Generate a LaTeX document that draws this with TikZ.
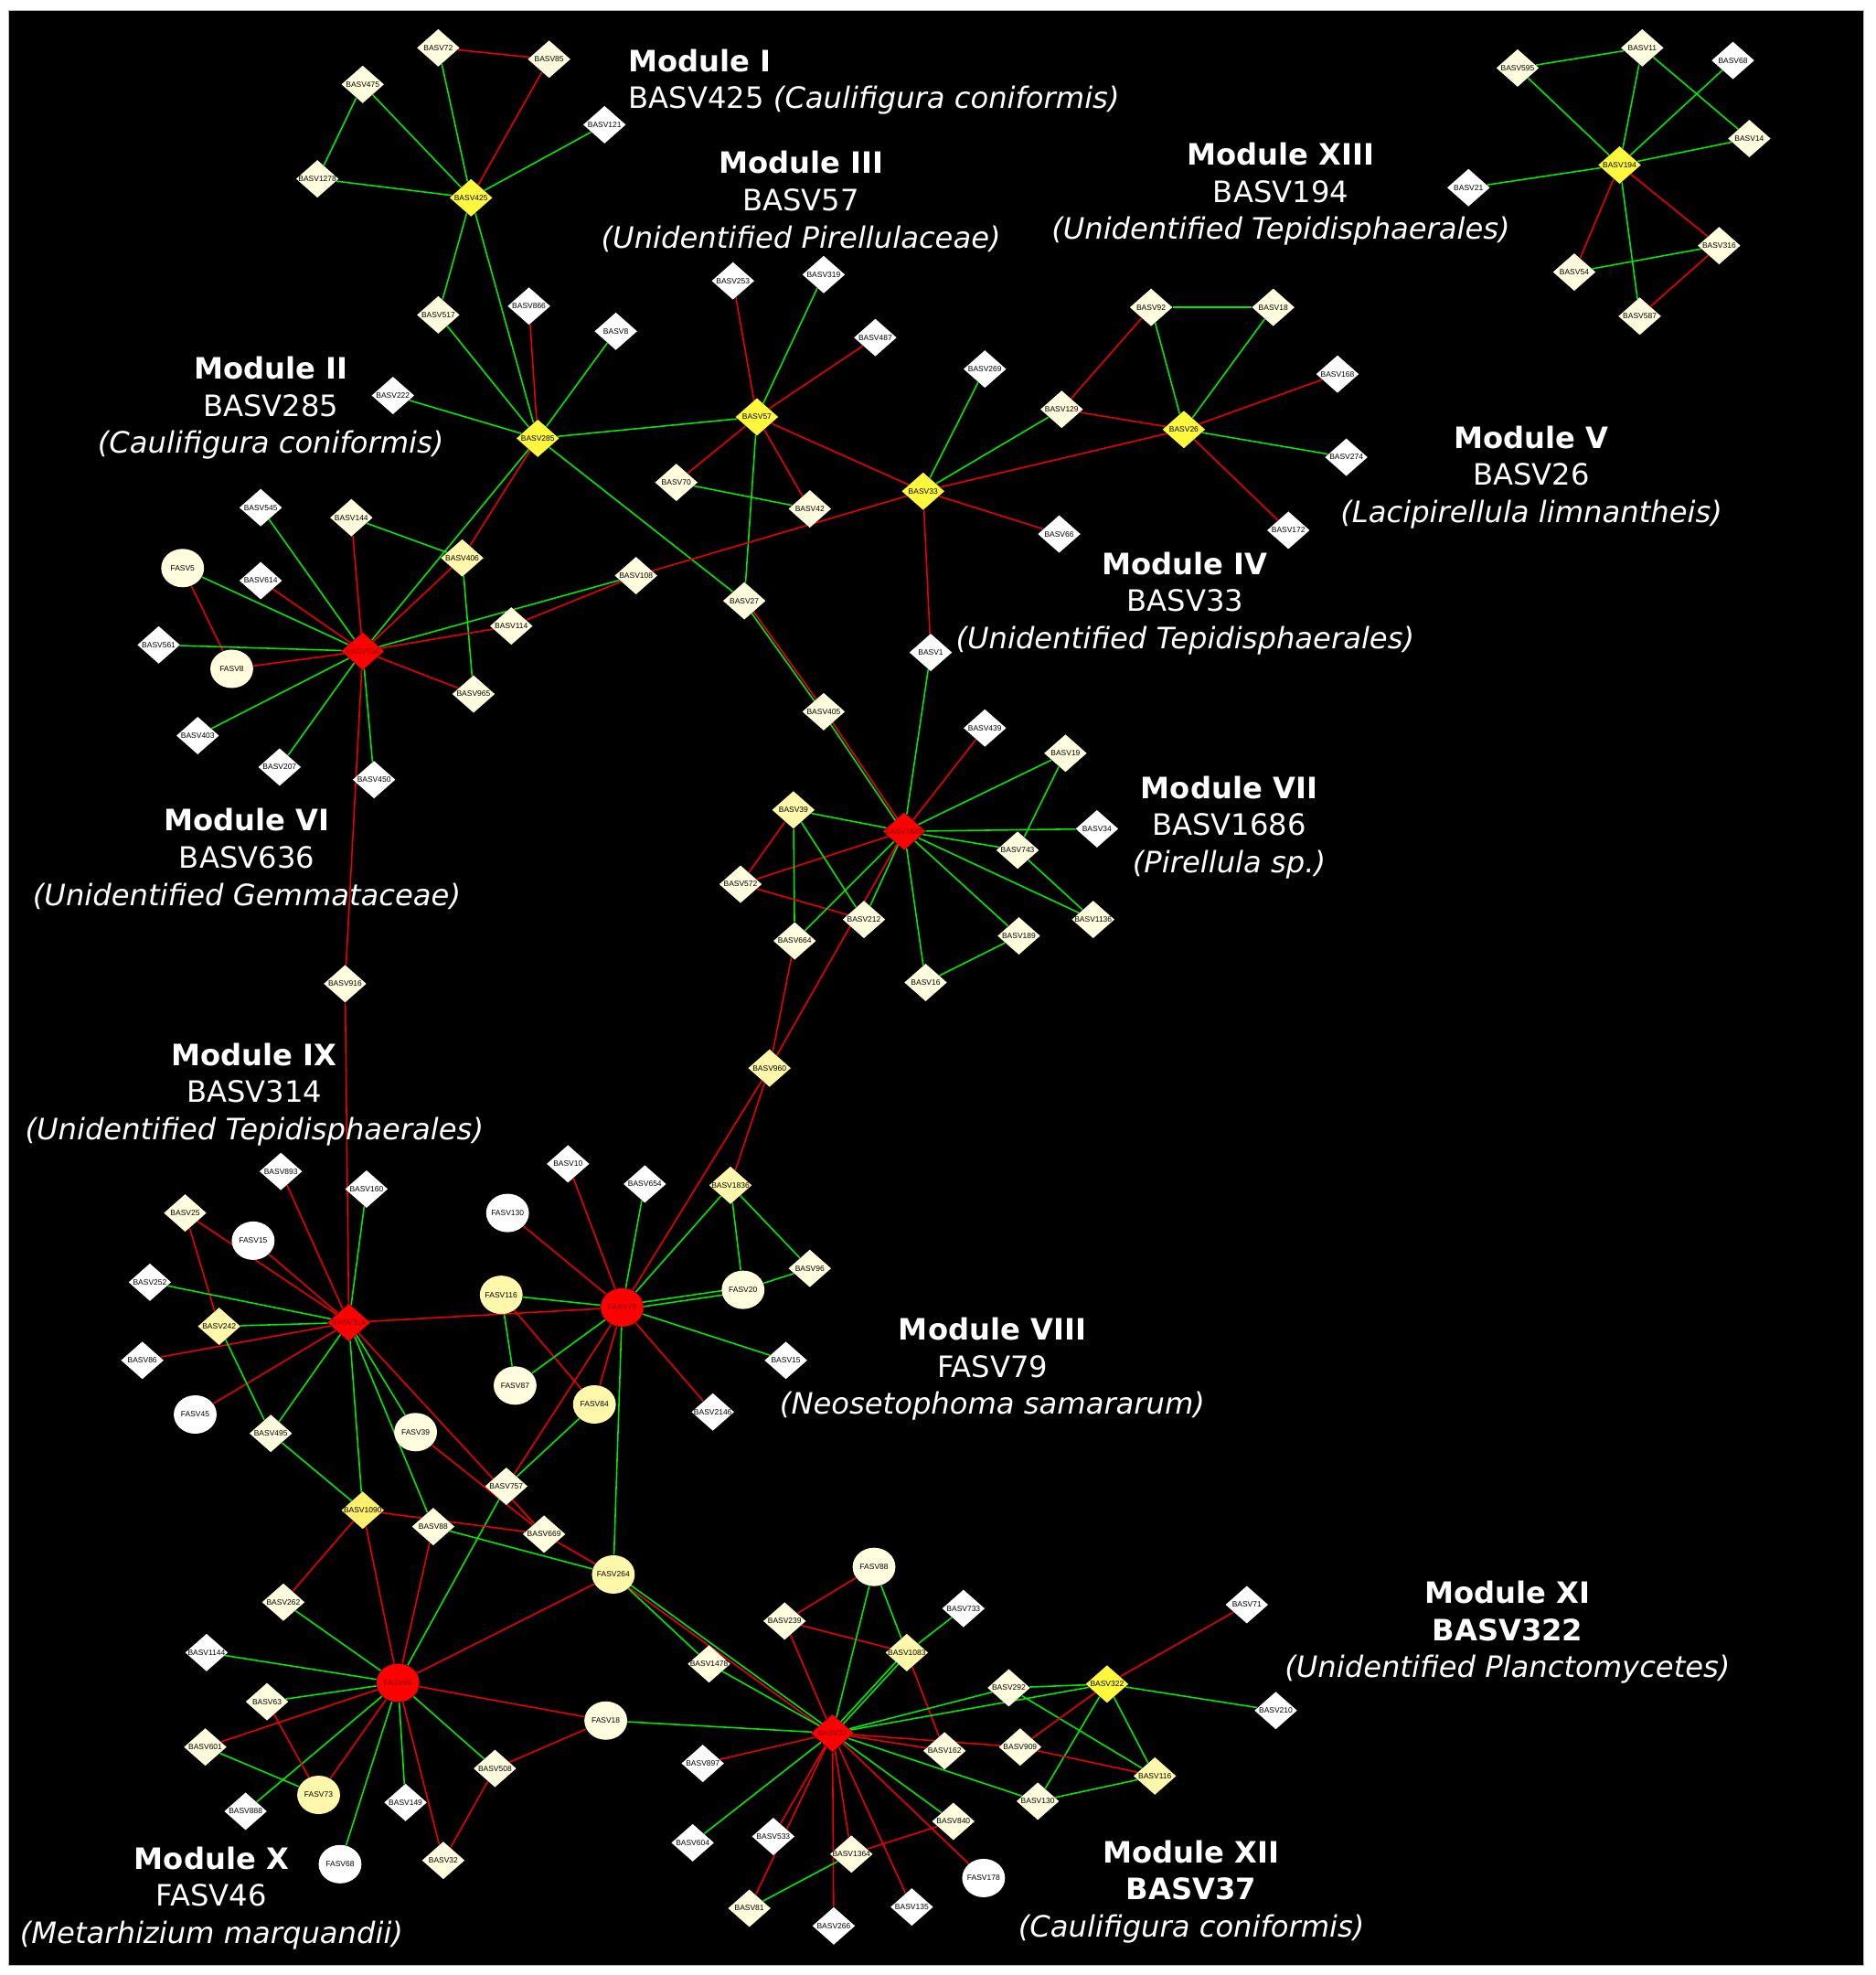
\documentclass[tikz,border=0pt]{standalone}
\usepackage{fontspec}
\usepackage{tikz}
\usetikzlibrary{shapes.geometric,backgrounds}
\newfontfamily\lblfont{Liberation Sans}
\newfontfamily\modfont{DejaVu Sans}
\definecolor{creamfill}{RGB}{255,253,222}
\definecolor{paleyfill}{RGB}{255,247,170}
\definecolor{midyfill}{RGB}{255,240,110}
\definecolor{hubyfill}{RGB}{255,248,60}
\definecolor{hubrfill}{RGB}{255,0,0}
\definecolor{hubtext}{RGB}{130,0,0}
\definecolor{edgegreen}{RGB}{0,235,0}
\definecolor{edgered}{RGB}{235,0,0}
\tikzset{diam/.style={diamond, draw=none, minimum width=6.8mm, minimum height=6mm, inner sep=-3mm, font=\lblfont\fontsize{3.5}{4}\selectfont}}
\tikzset{oval/.style={ellipse, draw=none, minimum width=6.8mm, minimum height=6.1mm, inner sep=-3mm, font=\lblfont\fontsize{3.5}{4}\selectfont}}
\tikzset{wh/.style={fill=white}}
\tikzset{cr/.style={fill=creamfill}}
\tikzset{py/.style={fill=paleyfill}}
\tikzset{my/.style={fill=midyfill}}
\tikzset{hy/.style={fill=hubyfill}}
\tikzset{hr/.style={fill=hubrfill, text=hubtext}}
\tikzset{gline/.style={draw=edgegreen, line width=0.65pt}}
\tikzset{rline/.style={draw=edgered, line width=0.65pt}}
\tikzset{modlbl/.style={text=white, align=center, font=\modfont\fontsize{13.3}{16.8}\selectfont}}

\begin{document}
\begin{tikzpicture}[x=0.2mm, y=-0.2mm]
  \useasboundingbox (0,0) rectangle (1489,1568);

  % module I and II
  \node[diam, cr] (b72) at (348,38) {BASV72};
  \node[diam, cr] (b85) at (436,47) {BASV85};
  \node[diam, cr] (b475) at (288,67) {BASV475};
  \node[diam, wh] (b121) at (480,99) {BASV121};
  \node[diam, cr] (b1278) at (252,142) {BASV1278};
  \node[diam, hy] (b425) at (374,157) {BASV425};
  \node[diam, cr] (b517) at (348,250) {BASV517};
  \node[diam, wh] (b866) at (420,243) {BASV866};
  \node[diam, wh] (b8) at (489,263) {BASV8};
  \node[diam, wh] (b222) at (312,314) {BASV222};
  \node[diam, hy] (b285) at (427,348) {BASV285};

  % module III, IV, V
  \node[diam, wh] (b253) at (582,223) {BASV253};
  \node[diam, wh] (b319) at (654,218) {BASV319};
  \node[diam, wh] (b487) at (695,268) {BASV487};
  \node[diam, wh] (b269) at (782,293) {BASV269};
  \node[diam, hy] (b57) at (601,331) {BASV57};
  \node[diam, cr] (b70) at (537,383) {BASV70};
  \node[diam, cr] (b42) at (643,404) {BASV42};
  \node[diam, hy] (b33) at (733,390) {BASV33};
  \node[diam, cr] (b129) at (843,325) {BASV129};
  \node[diam, cr] (b92) at (914,244) {BASV92};
  \node[diam, cr] (b18) at (1011,244) {BASV18};
  \node[diam, hy] (b26) at (940,341) {BASV26};
  \node[diam, wh] (b168) at (1062,297) {BASV168};
  \node[diam, wh] (b274) at (1069,363) {BASV274};
  \node[diam, wh] (b172) at (1023,421) {BASV172};
  \node[diam, wh] (b66) at (841,424) {BASV66};
  \node[diam, cr] (b108) at (505,457) {BASV108};
  \node[diam, cr] (b27) at (591,477) {BASV27};
  \node[diam, wh] (b1) at (739,518) {BASV1};

  % module XIII
  \node[diam, cr] (b595) at (1205,54) {BASV595};
  \node[diam, cr] (b11) at (1304,38) {BASV11};
  \node[diam, wh] (b68) at (1376,48) {BASV68};
  \node[diam, cr] (b14) at (1389,110) {BASV14};
  \node[diam, hy] (b194) at (1286,131) {BASV194};
  \node[diam, wh] (b21) at (1166,149) {BASV21};
  \node[diam, cr] (b316) at (1365,195) {BASV316};
  \node[diam, cr] (b54) at (1250,216) {BASV54};
  \node[diam, cr] (b587) at (1302,251) {BASV587};

  % module VI
  \node[diam, wh] (b545) at (207,403) {BASV545};
  \node[diam, cr] (b144) at (279,411) {BASV144};
  \node[diam, py] (b406) at (367,443) {BASV406};
  \node[oval, cr] (f5) at (145,451) {FASV5};
  \node[diam, wh] (b614) at (207,461) {BASV614};
  \node[diam, cr] (b114) at (406,497) {BASV114};
  \node[diam, wh] (b561) at (126,512) {BASV561};
  \node[diam, hr] (b636) at (288,517) {BASV636};
  \node[oval, cr] (f8) at (184,531) {FASV8};
  \node[diam, cr] (b965) at (376,551) {BASV965};
  \node[diam, wh] (b403) at (157,584) {BASV403};
  \node[diam, wh] (b207) at (222,609) {BASV207};
  \node[diam, wh] (b450) at (297,619) {BASV450};
  \node[diam, cr] (b916) at (274,781) {BASV916};

  % module VII
  \node[diam, cr] (b405) at (654,565) {BASV405};
  \node[diam, wh] (b439) at (782,578) {BASV439};
  \node[diam, cr] (b19) at (846,598) {BASV19};
  \node[diam, py] (b39) at (630,643) {BASV39};
  \node[diam, hr] (b1686) at (718,660) {BASV1686};
  \node[diam, wh] (b34) at (871,658) {BASV34};
  \node[diam, cr] (b743) at (808,675) {BASV743};
  \node[diam, cr] (b572) at (588,702) {BASV572};
  \node[diam, cr] (b212) at (686,730) {BASV212};
  \node[diam, cr] (b1136) at (868,730) {BASV1136};
  \node[diam, cr] (b664) at (631,747) {BASV664};
  \node[diam, cr] (b189) at (809,743) {BASV189};
  \node[diam, cr] (b16) at (735,780) {BASV16};
  \node[diam, py] (b960) at (611,848) {BASV960};

  % module IX and VIII
  \node[diam, wh] (b893) at (223,930) {BASV893};
  \node[diam, wh] (b160) at (291,944) {BASV160};
  \node[diam, cr] (b25) at (147,963) {BASV25};
  \node[oval, wh] (f15) at (201,985) {FASV15};
  \node[diam, wh] (b252) at (119,1018) {BASV252};
  \node[diam, py] (b242) at (174,1053) {BASV242};
  \node[diam, hr] (b314) at (277,1050) {BASV314};
  \node[diam, wh] (b86) at (113,1080) {BASV86};
  \node[oval, wh] (f45) at (155,1123) {FASV45};
  \node[diam, cr] (b495) at (215,1138) {BASV495};
  \node[oval, cr] (f39) at (330,1137) {FASV39};
  \node[oval, wh] (f130) at (403,963) {FASV130};
  \node[diam, wh] (b10) at (451,924) {BASV10};
  \node[diam, wh] (b654) at (512,940) {BASV654};
  \node[diam, py] (b1836) at (580,941) {BASV1836};
  \node[diam, cr] (b96) at (643,1007) {BASV96};
  \node[oval, py] (f116) at (398,1028) {FASV116};
  \node[oval, hr] (f79) at (494,1038) {FASV79};
  \node[oval, cr] (f20) at (590,1024) {FASV20};
  \node[oval, cr] (f87) at (409,1100) {FASV87};
  \node[oval, py] (f84) at (472,1115) {FASV84};
  \node[diam, wh] (b15) at (624,1080) {BASV15};
  \node[diam, wh] (b2146) at (566,1121) {BASV2146};

  % module X
  \node[diam, cr] (b757) at (402,1180) {BASV757};
  \node[diam, my] (b1090) at (288,1199) {BASV1090};
  \node[diam, cr] (b88) at (344,1212) {BASV88};
  \node[diam, cr] (b669) at (432,1218) {BASV669};
  \node[oval, py] (f264) at (487,1250) {FASV264};
  \node[diam, cr] (b262) at (225,1272) {BASV262};
  \node[diam, wh] (b1144) at (164,1312) {BASV1144};
  \node[oval, hr] (f46) at (316,1336) {FASV46};
  \node[diam, cr] (b63) at (212,1351) {BASV63};
  \node[oval, cr] (f18) at (481,1366) {FASV18};
  \node[diam, cr] (b601) at (163,1387) {BASV601};
  \node[diam, cr] (b508) at (393,1404) {BASV508};
  \node[oval, py] (f73) at (253,1425) {FASV73};
  \node[diam, wh] (b149) at (322,1431) {BASV149};
  \node[diam, wh] (b888) at (195,1438) {BASV888};
  \node[diam, cr] (b32) at (352,1477) {BASV32};
  \node[oval, wh] (f68) at (270,1480) {FASV68};

  % module XI and XII
  \node[oval, cr] (f88) at (694,1244) {FASV88};
  \node[diam, wh] (b733) at (765,1277) {BASV733};
  \node[diam, cr] (b239) at (623,1287) {BASV239};
  \node[diam, wh] (b71) at (990,1274) {BASV71};
  \node[diam, cr] (b1478) at (563,1321) {BASV1478};
  \node[diam, py] (b1083) at (720,1312) {BASV1083};
  \node[diam, cr] (b292) at (801,1340) {BASV292};
  \node[diam, hy] (b322) at (879,1337) {BASV322};
  \node[diam, wh] (b210) at (1013,1358) {BASV210};
  \node[diam, hr] (b37) at (661,1376) {BASV37};
  \node[diam, cr] (b162) at (750,1390) {BASV162};
  \node[diam, cr] (b909) at (810,1387) {BASV909};
  \node[diam, wh] (b897) at (558,1400) {BASV897};
  \node[diam, py] (b116) at (917,1410) {BASV116};
  \node[diam, cr] (b130) at (824,1430) {BASV130};
  \node[diam, cr] (b840) at (757,1446) {BASV840};
  \node[diam, wh] (b533) at (614,1458) {BASV533};
  \node[diam, wh] (b604) at (550,1463) {BASV604};
  \node[diam, cr] (b1364) at (676,1472) {BASV1364};
  \node[oval, wh] (f178) at (781,1491) {FASV178};
  \node[diam, cr] (b81) at (595,1515) {BASV81};
  \node[diam, wh] (b135) at (724,1514) {BASV135};
  \node[diam, wh] (b266) at (662,1529) {BASV266};

  % module captions
  \node[modlbl, align=left, anchor=west] (m1) at (493,65) {\textbf{Module I}\\BASV425 \textit{(Caulifigura coniformis)}};
  \node[modlbl] (m3) at (636,160) {\textbf{Module III}\\BASV57\\\textit{(Unidentified Pirellulaceae)}};
  \node[modlbl] (m13) at (1017,154) {\textbf{Module XIII}\\BASV194\\\textit{(Unidentified Tepidisphaerales)}};
  \node[modlbl] (m2) at (215,324) {\textbf{Module II}\\BASV285\\\textit{(Caulifigura coniformis)}};
  \node[modlbl] (m5) at (1216,379) {\textbf{Module V}\\BASV26\\\textit{(Lacipirellula limnantheis)}};
  \node[modlbl] (m4) at (941,479) {\textbf{Module IV}\\BASV33\\\textit{(Unidentified Tepidisphaerales)}};
  \node[modlbl] (m7) at (976,657) {\textbf{Module VII}\\BASV1686\\\textit{(Pirellula sp.)}};
  \node[modlbl] (m6) at (196,682) {\textbf{Module VI}\\BASV636\\\textit{(Unidentified Gemmataceae)}};
  \node[modlbl] (m9) at (202,869) {\textbf{Module IX}\\BASV314\\\textit{(Unidentified Tepidisphaerales)}};
  \node[modlbl] (m8) at (788,1087) {\textbf{Module VIII}\\FASV79\\\textit{(Neosetophoma samararum)}};
  \node[modlbl] (m11) at (1197,1296) {\textbf{Module XI}\\\textbf{BASV322}\\\textit{(Unidentified Planctomycetes)}};
  \node[modlbl] (m10) at (168,1507) {\textbf{Module X}\\FASV46\\\textit{(Metarhizium marquandii)}};
  \node[modlbl] (m12) at (946,1502) {\textbf{Module XII}\\\textbf{BASV37}\\\textit{(Caulifigura coniformis)}};

  \begin{pgfonlayer}{background}
  \fill[white] (0,0) rectangle (1489,1568);
  \fill[black] (7,8) rectangle (1480,1560);
  \draw[gray!60, line width=0.4pt] (7,8) rectangle (1480,1560);

  % module I and II
  \draw[rline] (b72) -- (b85);
  \draw[gline] (b72) -- (b425);
  \draw[rline] (b85) -- (b425);
  \draw[gline] (b475) -- (b425);
  \draw[gline] (b475) -- (b1278);
  \draw[gline] (b1278) -- (b425);
  \draw[gline] (b121) -- (b425);
  \draw[gline] (b425) -- (b517);
  \draw[gline] (b425) -- (b285);
  \draw[gline] (b517) -- (b285);
  \draw[rline] (b866) -- (b285);
  \draw[gline] (b8) -- (b285);
  \draw[gline] (b222) -- (b285);
  \draw[gline] (b285) -- (b57);
  \draw[gline] (b285) -- (b636);
  \draw[rline] (b285) -- (b406);
  \draw[gline] (b285) -- (b27);

  % module III, IV, V
  \draw[rline] (b253) -- (b57);
  \draw[gline] (b319) -- (b57);
  \draw[rline] (b487) -- (b57);
  \draw[rline] (b57) -- (b70);
  \draw[rline] (b57) -- (b42);
  \draw[rline] (b57) -- (b33);
  \draw[gline] (b57) -- (b27);
  \draw[gline] (b70) -- (b42);
  \draw[gline] (b269) -- (b33);
  \draw[gline] (b33) -- (b129);
  \draw[rline] (b33) -- (b26);
  \draw[rline] (b33) -- (b66);
  \draw[rline] (b33) -- (b108);
  \draw[rline] (b33) -- (b1);
  \draw[rline] (b129) -- (b92);
  \draw[rline] (b129) -- (b26);
  \draw[gline] (b92) -- (b18);
  \draw[gline] (b92) -- (b26);
  \draw[gline] (b18) -- (b26);
  \draw[rline] (b26) -- (b168);
  \draw[gline] (b26) -- (b274);
  \draw[rline] (b26) -- (b172);

  % module XIII
  \draw[gline] (b595) -- (b11);
  \draw[gline] (b595) -- (b194);
  \draw[gline] (b11) -- (b194);
  \draw[gline] (b11) -- (b14);
  \draw[gline] (b68) -- (b194);
  \draw[gline] (b14) -- (b194);
  \draw[gline] (b21) -- (b194);
  \draw[rline] (b194) -- (b54);
  \draw[gline] (b194) -- (b587);
  \draw[rline] (b194) -- (b316);
  \draw[gline] (b54) -- (b316);
  \draw[rline] (b316) -- (b587);

  % module VI
  \draw[gline] (b545) -- (b636);
  \draw[rline] (b144) -- (b636);
  \draw[gline] (b144) -- (b406);
  \draw[gline] (b406) -- (b965);
  \draw[rline] (b406) -- (b636);
  \draw[gline] (f5) -- (b636);
  \draw[rline] (f5) -- (f8);
  \draw[rline] (b614) -- (b636);
  \draw[gline] (b561) -- (b636);
  \draw[rline] (f8) -- (b636);
  \draw[gline] (b636) -- (b108);
  \draw[rline] (b636) -- (b114);
  \draw[rline] (b114) -- (b108);
  \draw[rline] (b636) -- (b965);
  \draw[gline] (b636) -- (b403);
  \draw[gline] (b636) -- (b207);
  \draw[gline] (b636) -- (b450);
  \draw[rline] (b636) -- (b916);

  % module VII
  \draw[gline] ([xshift=-0.25mm]b27.center) -- ([xshift=-0.25mm]b405.center);
  \draw[rline] ([xshift=0.25mm]b27.center) -- ([xshift=0.25mm]b405.center);
  \draw[gline] ([xshift=-0.25mm]b405.center) -- ([xshift=-0.25mm]b1686.center);
  \draw[rline] ([xshift=0.25mm]b405.center) -- ([xshift=0.25mm]b1686.center);
  \draw[gline] (b1) -- (b1686);
  \draw[rline] (b439) -- (b1686);
  \draw[gline] (b19) -- (b1686);
  \draw[gline] (b19) -- (b743);
  \draw[gline] (b39) -- (b1686);
  \draw[gline] (b34) -- (b1686);
  \draw[gline] (b743) -- (b1686);
  \draw[gline] (b743) -- (b1136);
  \draw[gline] (b1686) -- (b1136);
  \draw[gline] (b1686) -- (b189);
  \draw[gline] (b1686) -- (b16);
  \draw[gline] (b189) -- (b16);
  \draw[rline] (b1686) -- (b572);
  \draw[rline] (b39) -- (b572);
  \draw[gline] (b39) -- (b664);
  \draw[gline] (b39) -- (b212);
  \draw[rline] (b572) -- (b212);
  \draw[gline] (b1686) -- (b664);
  \draw[gline] (b1686) -- (b212);
  \draw[rline] (b1686) -- (b960);
  \draw[rline] (b664) -- (b960);

  % module IX and VIII
  \draw[rline] (b916) -- (b314);
  \draw[rline] (b893) -- (b314);
  \draw[gline] (b160) -- (b314);
  \draw[rline] (b25) -- (b314);
  \draw[rline] (b25) -- (b242);
  \draw[rline] (f15) -- (b314);
  \draw[gline] (b252) -- (b314);
  \draw[gline] (b242) -- (b314);
  \draw[rline] (b86) -- (b314);
  \draw[rline] (f45) -- (b314);
  \draw[gline] (b242) -- (b495);
  \draw[gline] (b495) -- (b314);
  \draw[gline] (b495) -- (b1090);
  \draw[gline] (b314) -- (b1090);
  \draw[gline] (b314) -- (b88);
  \draw[gline] (b314) -- (f39);
  \draw[rline] (b314) -- (b669);
  \draw[rline] (f39) -- (b669);
  \draw[rline] (b314) -- (f79);
  \draw[rline] (f130) -- (f79);
  \draw[rline] (b10) -- (f79);
  \draw[gline] (b654) -- (f79);
  \draw[rline] (b960) -- (f79);
  \draw[rline] (b960) -- (b1836);
  \draw[gline] (b1836) -- (f79);
  \draw[gline] (b1836) -- (f20);
  \draw[gline] (b1836) -- (b96);
  \draw[gline] (f20) -- (b96);
  \draw[gline] ([yshift=0.35mm]f79.center) -- ([yshift=0.35mm]f20.center);
  \draw[gline] ([yshift=-0.35mm]f79.center) -- ([yshift=-0.35mm]f20.center);
  \draw[gline] (f116) -- (f79);
  \draw[gline] (f116) -- (f87);
  \draw[rline] (f116) -- (f84);
  \draw[gline] (f87) -- (f79);
  \draw[rline] (f84) -- (f79);
  \draw[gline] (f79) -- (f264);
  \draw[gline] (f79) -- (b15);
  \draw[rline] (f79) -- (b2146);
  \draw[rline] (f79) -- (b757);
  \draw[gline] (b757) -- (f84);
  \draw[gline] (b757) -- (f46);

  % module X
  \draw[rline] (b1090) -- (b262);
  \draw[rline] (b1090) -- (f46);
  \draw[rline] (b1090) -- (b669);
  \draw[rline] (b88) -- (f46);
  \draw[gline] (b88) -- (f264);
  \draw[rline] (b669) -- (f264);
  \draw[rline] (f46) -- (f264);
  \draw[gline] (f46) -- (b262);
  \draw[gline] (f46) -- (b1144);
  \draw[gline] (f46) -- (b63);
  \draw[rline] (f46) -- (b601);
  \draw[gline] (f46) -- (b888);
  \draw[rline] (f46) -- (f73);
  \draw[gline] (f46) -- (f68);
  \draw[gline] (f46) -- (b149);
  \draw[rline] (f46) -- (b32);
  \draw[gline] (f46) -- (b508);
  \draw[rline] (f46) -- (f18);
  \draw[rline] (b63) -- (f73);
  \draw[gline] (b601) -- (f73);
  \draw[rline] (b508) -- (f18);
  \draw[rline] (b508) -- (b32);
  \draw[gline] (f18) -- (b37);

  % module XI and XII
  \draw[gline] ([yshift=0.3mm]f264.center) -- ([yshift=0.3mm]b37.center);
  \draw[rline] ([yshift=-0.3mm]f264.center) -- ([yshift=-0.3mm]b37.center);
  \draw[gline] (f264) -- (b1478);
  \draw[gline] (b1478) -- (b37);
  \draw[rline] (b239) -- (f88);
  \draw[rline] (b239) -- (b1083);
  \draw[rline] (b239) -- (b37);
  \draw[gline] (f88) -- (b37);
  \draw[gline] (f88) -- (b1083);
  \draw[gline] (b733) -- (b1083);
  \draw[gline] ([xshift=-0.35mm]b37.center) -- ([xshift=-0.35mm]b1083.center);
  \draw[gline] ([xshift=0.35mm]b37.center) -- ([xshift=0.35mm]b1083.center);
  \draw[rline] (b1083) -- (b162);
  \draw[gline] (b37) -- (b292);
  \draw[gline] (b37) -- (b322);
  \draw[gline] (b292) -- (b322);
  \draw[gline] (b292) -- (b116);
  \draw[rline] (b322) -- (b71);
  \draw[gline] (b322) -- (b210);
  \draw[rline] (b322) -- (b909);
  \draw[gline] (b322) -- (b130);
  \draw[gline] (b322) -- (b116);
  \draw[gline] (b130) -- (b116);
  \draw[rline] (b909) -- (b116);
  \draw[rline] (b37) -- (b162);
  \draw[rline] (b37) -- (b909);
  \draw[gline] (b37) -- (b130);
  \draw[gline] (b37) -- (b840);
  \draw[gline] (b37) -- (b604);
  \draw[rline] (b37) -- (b897);
  \draw[rline] (b37) -- (b533);
  \draw[rline] (b37) -- (b81);
  \draw[rline] (b37) -- (b266);
  \draw[rline] (b37) -- (b1364);
  \draw[rline] (b37) -- (b135);
  \draw[rline] (b37) -- (f178);
  \draw[rline] (b1364) -- (b840);
  \draw[gline] (b81) -- (b1364);
  \end{pgfonlayer}

\end{tikzpicture}
\end{document}
